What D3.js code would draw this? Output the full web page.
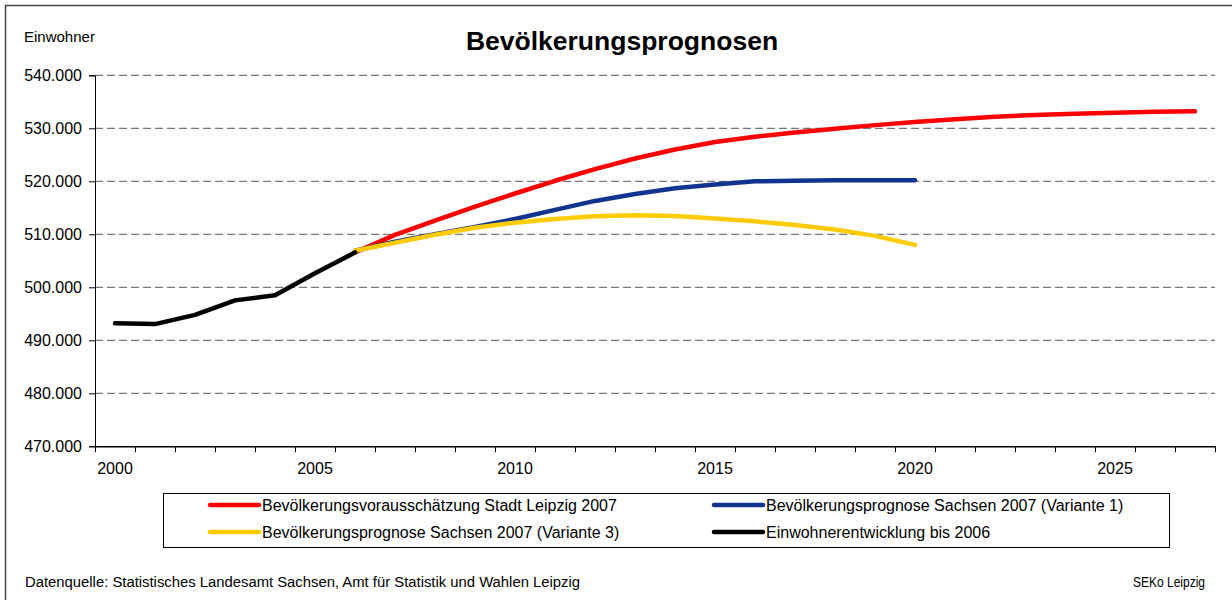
<!DOCTYPE html>
<html>
<head>
<meta charset="utf-8">
<script src="https://d3js.org/d3.v7.min.js"></script>
<style>
  body { margin: 0; background: #fff; }
  svg { display: block; font-family: "Liberation Sans", Arial, sans-serif; }
</style>
</head>
<body>
<script>
// Chart data
const years = [2000, 2001, 2002, 2003, 2004, 2005, 2006, 2007, 2008, 2009,
  2010, 2011, 2012, 2013, 2014, 2015, 2016, 2017, 2018, 2019,
  2020, 2021, 2022, 2023, 2024, 2025, 2026, 2027];
const labelYears = [2000, 2005, 2010, 2015, 2020, 2025];
const yTicks = [470000, 480000, 490000, 500000, 510000, 520000, 530000, 540000];

const historyYears = [2000, 2001, 2002, 2003, 2004, 2005, 2006];
const history = [493208, 493052, 494795, 497531, 498491, 502651, 506578];

const leipzigYears = [2006, 2007, 2008, 2009, 2010, 2011, 2012, 2013, 2014, 2015, 2016,
  2017, 2018, 2019, 2020, 2021, 2022, 2023, 2024, 2025, 2026, 2027];
const leipzig = [506600, 509900, 512600, 515200, 517700, 520100, 522300, 524300, 526000, 527400, 528400,
  529200, 529900, 530600, 531200, 531700, 532200, 532500, 532750, 532950, 533100, 533200];

const sachsenYears = [2006, 2007, 2008, 2009, 2010, 2011, 2012, 2013, 2014, 2015, 2016,
  2017, 2018, 2019, 2020];
const sachsenV1 = [506900, 508600, 510000, 511400, 512900, 514600, 516300, 517600, 518700, 519400, 520000,
  520100, 520200, 520200, 520200];
const sachsenV3 = [506900, 508400, 509900, 511250, 512200, 512900, 513400, 513600, 513450, 513000, 512450,
  511750, 510900, 509700, 508000];

const seriesNames = [
  'Bevölkerungsvorausschätzung Stadt Leipzig 2007',
  'Bevölkerungsprognose Sachsen 2007 (Variante 1)',
  'Bevölkerungsprognose Sachsen 2007 (Variante 3)',
  'Einwohnerentwicklung bis 2006'
];
const seriesColors = ['#ff0000', '#11348f', '#ffcc00', '#000000'];

const width = 1232;
const height = 600;
const plot = { left: 95, right: 1215, top: 75.3, bottom: 446.3 };

const svg = d3.select('body').append('svg')
  .attr('width', width)
  .attr('height', height);

// outer frame
svg.append('rect')
  .attr('x', 5.5).attr('y', 5.5)
  .attr('width', 1240).attr('height', 620)
  .attr('fill', 'none')
  .attr('stroke', '#444')
  .attr('stroke-width', 1.5);

// scales
const x = d3.scaleBand().domain(years).range([plot.left, plot.right]).padding(0);
const xEdge = d3.scaleLinear().domain([2000, 2028]).range([plot.left, plot.right]);
const y = d3.scaleLinear().domain([470000, 540000]).range([plot.bottom, plot.top]);
const de = d3.formatLocale({ decimal: ',', thousands: '.', grouping: [3], currency: ['', ' €'] });
const fmt = de.format(',d');

// grid lines
svg.append('g')
  .selectAll('line')
  .data(yTicks.filter(d => d > 470000))
  .enter().append('line')
  .attr('x1', plot.left)
  .attr('x2', plot.right)
  .attr('y1', d => y(d))
  .attr('y2', d => y(d))
  .attr('stroke', '#555')
  .attr('stroke-width', 1)
  .attr('stroke-dasharray', '8,4');

// y axis
const yAxis = svg.append('g')
  .attr('transform', `translate(${plot.left},0)`)
  .call(d3.axisLeft(y).tickValues(yTicks).tickFormat(fmt).tickSize(6).tickPadding(7));
yAxis.select('.domain').attr('stroke', '#000').attr('stroke-width', 1);
yAxis.selectAll('.tick line').attr('stroke', '#000');
yAxis.selectAll('.tick text')
  .attr('font-size', 16)
  .attr('fill', '#000')
  .attr('font-family', '"Liberation Sans", Arial, sans-serif');

// x axis ticks at category edges
const xAxis = svg.append('g')
  .attr('transform', `translate(0,${plot.bottom})`)
  .call(d3.axisBottom(xEdge).tickValues(d3.range(2000, 2029)).tickFormat('').tickSize(6).tickSizeOuter(0));
xAxis.select('.domain').attr('stroke', '#000').attr('stroke-width', 1.5);
xAxis.selectAll('.tick line').attr('stroke', '#000');

// x labels centred on categories
svg.append('g')
  .selectAll('text')
  .data(labelYears)
  .enter().append('text')
  .attr('x', d => x(d) + x.bandwidth() / 2)
  .attr('y', 474)
  .attr('text-anchor', 'middle')
  .attr('font-size', 16)
  .text(d => d);

// lines
const line = d3.line()
  .x(d => x(d[0]) + x.bandwidth() / 2)
  .y(d => y(d[1]));

const lineData = [
  { color: seriesColors[0], pts: d3.zip(leipzigYears, leipzig) },
  { color: seriesColors[1], pts: d3.zip(sachsenYears, sachsenV1) },
  { color: seriesColors[2], pts: d3.zip(sachsenYears, sachsenV3) },
  { color: seriesColors[3], pts: d3.zip(historyYears, history) }
];

svg.append('g')
  .selectAll('path')
  .data(lineData)
  .enter().append('path')
  .attr('d', d => line(d.pts))
  .attr('fill', 'none')
  .attr('stroke', d => d.color)
  .attr('stroke-width', 4.5)
  .attr('stroke-linecap', 'round')
  .attr('stroke-linejoin', 'round');

// title and axis caption
svg.append('text')
  .attr('x', 622)
  .attr('y', 50)
  .attr('text-anchor', 'middle')
  .attr('font-size', 26.5)
  .attr('font-weight', 'bold')
  .text('Bevölkerungsprognosen');

svg.append('text')
  .attr('x', 24)
  .attr('y', 42)
  .attr('font-size', 15)
  .text('Einwohner');

// legend
svg.append('rect')
  .attr('x', 163.5).attr('y', 493.5)
  .attr('width', 1006).attr('height', 54)
  .attr('fill', '#fff')
  .attr('stroke', '#000')
  .attr('stroke-width', 1);

const legendPos = [
  { lx: 210, ly: 505 },
  { lx: 714, ly: 505 },
  { lx: 210, ly: 532 },
  { lx: 714, ly: 532 }
];

const legend = svg.append('g')
  .selectAll('g')
  .data(seriesNames)
  .enter().append('g')
  .attr('transform', (d, i) => `translate(${legendPos[i].lx},${legendPos[i].ly})`);

legend.append('line')
  .attr('x1', 0).attr('x2', 49)
  .attr('y1', 0).attr('y2', 0)
  .attr('stroke', (d, i) => seriesColors[i])
  .attr('stroke-width', 4.5)
  .attr('stroke-linecap', 'round');

legend.append('text')
  .attr('x', 52)
  .attr('y', 6)
  .attr('font-size', 16)
  .text(d => d);

// footer
svg.append('text')
  .attr('x', 25)
  .attr('y', 587)
  .attr('font-size', 14)
  .attr('textLength', 555)
  .attr('lengthAdjust', 'spacingAndGlyphs')
  .text('Datenquelle: Statistisches Landesamt Sachsen, Amt für Statistik und Wahlen Leipzig');

svg.append('text')
  .attr('x', 1133)
  .attr('y', 587)
  .attr('font-size', 14)
  .attr('textLength', 72)
  .attr('lengthAdjust', 'spacingAndGlyphs')
  .text('SEKo Leipzig');
</script>
</body>
</html>
